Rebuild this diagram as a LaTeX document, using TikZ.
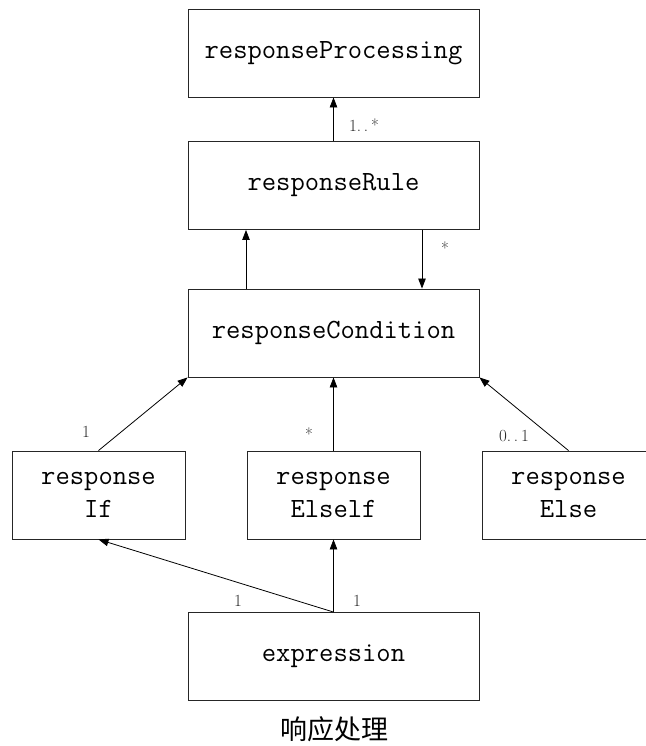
\documentclass[tikz,border=0pt]{standalone}
\usepackage{fontspec}
\newfontfamily\cjk{Noto Sans CJK SC}
\usetikzlibrary{arrows.meta,calc}
\begin{document}
\begin{tikzpicture}[x=1pt,y=-1pt,
  box/.style={draw=black!85,line width=0.9pt,inner sep=0pt,align=center,
    font=\ttfamily\fontsize{27.8}{33}\selectfont\addfontfeatures{FakeBold=0.6}},
  widebox/.style={box,minimum width=291pt,minimum height=88pt},
  smallbox/.style={box,minimum width=173pt,minimum height=88pt},
  link/.style={draw=black,line width=0.8pt,-{Triangle[length=10pt,width=7.5pt]}},
  mult/.style={text=black!85,font=\fontsize{17}{20}\selectfont,inner sep=0pt}]
\useasboundingbox (0,0) rectangle (645,746);

% class boxes
\node[widebox] (proc) at (333.5,53) {responseProcessing};
\node[widebox] (rule) at (333.5,185.5) {responseRule};
\node[widebox] (cond) at (333.5,333) {responseCondition};
\node[smallbox] (rif) at (98.5,495) {response\\If};
\node[smallbox] (relif) at (333.5,495) {response\\Elself};
\node[smallbox] (relse) at (568.5,495) {response\\Else};
\node[widebox] (expr) at (333.5,656.5) {expression};

% associations
\draw[link] (rule.north) -- (proc.south);
\draw[link] ([xshift=-87.5pt]cond.north) -- ([xshift=-87.5pt]rule.south);
\draw[link] ([xshift=88.5pt]rule.south) -- ([xshift=88.5pt]cond.north);
\draw[link] (rif.north) -- (cond.south west);
\draw[link] (relif.north) -- (cond.south);
\draw[link] (relse.north) -- (cond.south east);
\draw[link] (expr.north) -- (rif.south);
\draw[link] (expr.north) -- (relif.south);

% multiplicities
\node[mult] (m1) at (364,125) {1.\,.\,*};
\node[mult] (m2) at (445,248) {*};
\node[mult] (m3) at (86,432) {1};
\node[mult] (m4) at (309,434) {*};
\node[mult] (m5) at (514,436) {0.\,.\,1};
\node[mult] (m6) at (238,601) {1};
\node[mult] (m7) at (357,601) {1};

% caption
\node[font=\cjk\fontsize{27}{30}\selectfont,inner sep=0pt] (cap) at (334,729) {响应处理};
\end{tikzpicture}
\end{document}
